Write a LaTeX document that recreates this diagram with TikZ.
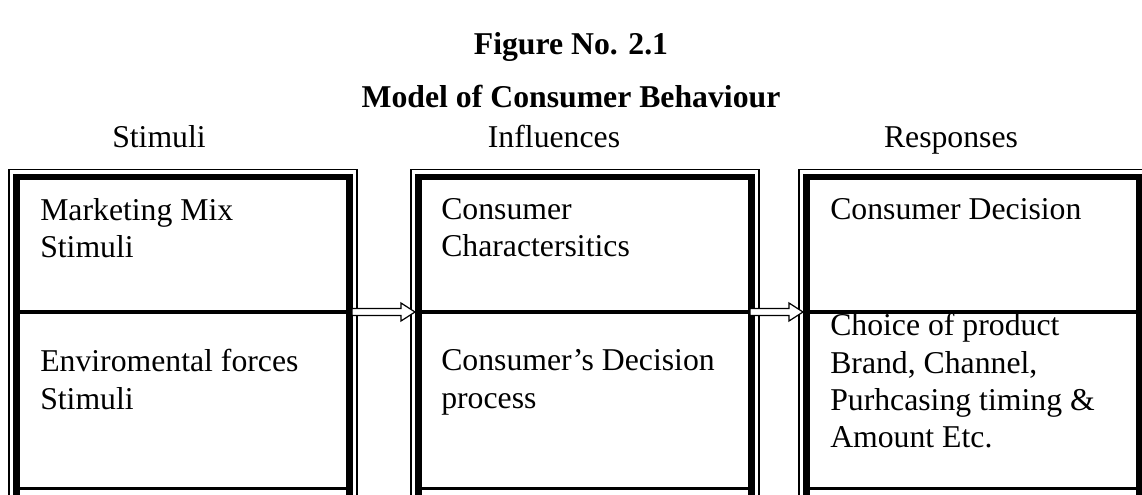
\documentclass[tikz,border=0pt]{standalone}
\usepackage{fontspec}
\setmainfont{Liberation Serif}
\usetikzlibrary{positioning,calc}

\tikzset{
  heading/.style={anchor=base,inner sep=0pt,font=\fontsize{23.8}{28}\selectfont\bfseries},
  colhead/.style={anchor=base,inner sep=0pt,font=\fontsize{23.8}{28}\selectfont},
  cell/.style={anchor=north west,inner sep=0pt,align=left,font=\fontsize{23.8}{28}\selectfont},
  thinrule/.style={line width=0.9pt},
  thickrule/.style={line width=5.2pt},
  blockarrow/.style={draw=black,fill=white,line width=0.9pt,line join=miter}
}

\begin{document}
\begin{tikzpicture}[x=0.75pt,y=-0.75pt]
\useasboundingbox (0,0) rectangle (1142,495);
\clip (0,0) rectangle (1142,495);

%title lines
\node[heading] (fig) at (571,55) {Figure No. 2.1};
\node[heading] (model) at (571,108) {Model of Consumer Behaviour};

%column headings
\node[colhead] (stim) at (159,148) {Stimuli};
\node[colhead] (infl) at (554,148) {Influences};
\node[colhead] (resp) at (951,148) {Responses};

%the three framed boxes: thin outer line, thick inner frame, middle rule
\foreach \bx in {9,411,799} {
  \draw[thinrule] (\bx,169.5) rectangle (\bx+348,520);
  \draw[thickrule] (\bx+7.5,177) rectangle (\bx+340.5,530);
  \draw[line width=2.4pt] (\bx+7.5,488.5) -- (\bx+340.5,488.5);
  \draw[line width=3pt] (\bx+7.5,312) -- (\bx+340.5,312);
}

%box texts
\node[cell] (mix) at (40,198.3) {Marketing Mix\\Stimuli};
\node[cell] (env) at (40,349.3) {Enviromental forces\\Stimuli};
\node[cell] (char) at (441,198.3) {Consumer\\Charactersitics};
\node[cell] (proc) at (441,349.3) {Consumer’s Decision\\process};
\node[cell] (dec) at (830,198.3) {Consumer Decision};
\node[cell] (choice) at (830,313.3) {Choice of product\\Brand, Channel,\\Purhcasing timing \&\\Amount Etc.};

%block arrows between the boxes
\coordinate (s-out) at (352,312);
\coordinate (i-in) at (415,312);
\coordinate (i-out) at (750,312);
\coordinate (r-in) at (803,312);
\foreach \from/\to in {s-out/i-in,i-out/r-in}
\draw[blockarrow] ($(\from)+(0,-3.5)$) -- ($(\to)+(-14,-3.5)$)
  -- ($(\to)+(-14,-9)$) -- (\to) -- ($(\to)+(-14,9)$)
  -- ($(\to)+(-14,3.5)$) -- ($(\from)+(0,3.5)$) -- cycle;

\end{tikzpicture}
\end{document}
